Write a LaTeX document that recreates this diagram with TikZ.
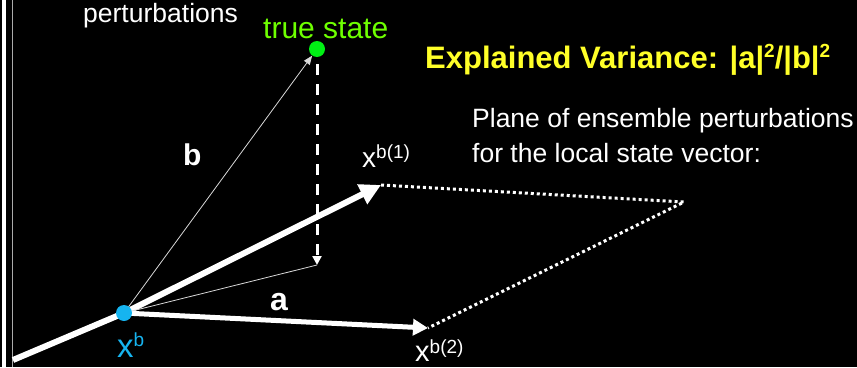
\documentclass[tikz,border=0pt]{standalone}
\usepackage{fontspec}
\setmainfont{Liberation Sans}
\usetikzlibrary{arrows.meta,backgrounds}
\definecolor{xbcyan}{RGB}{22,180,240}
\definecolor{tsgreen}{RGB}{0,240,20}
\definecolor{tstext}{RGB}{110,255,0}
\definecolor{evyellow}{RGB}{255,255,40}
\definecolor{rulegray}{RGB}{170,170,170}
\newcommand{\fsz}[1]{\fontsize{#1}{#1}\selectfont}
\newcommand{\evsq}{\raisebox{11pt}{\fsz{19}2}}
\begin{document}
\begin{tikzpicture}[x=1pt,y=-1pt,
  lbl/.style={anchor=base west,inner sep=0pt,text=white},
  dotnode/.style={circle,inner sep=0pt,minimum size=16pt},
  thickvec/.style={white,line width=6pt,-{Triangle[length=21pt,width=21pt]}},
  thinvec/.style={white!85!black,line width=0.8pt},
  dotline/.style={white,line width=3pt,dash pattern=on 3pt off 3pt}]
\useasboundingbox (0,0) rectangle (857,367);
% points
\coordinate (start) at (13,360);
\node[dotnode,fill=xbcyan] (xb) at (124,313) {};
\node[dotnode,fill=tsgreen] (ts) at (317,49) {};
\coordinate (x1) at (381,185);
\coordinate (x2) at (428,328);
\coordinate (pl) at (684,202);
\coordinate (proj) at (317,265);
\coordinate (dtop) at (317,64);
\begin{scope}[on background layer]
\fill[black] (0,0) rectangle (857,367);
\draw[white,line width=4pt] (4,0) -- (4,367);
\draw[rulegray,line width=1pt] (12.5,0) -- (12.5,367);
\draw[white,line width=6pt] (start) -- (xb.center);
\draw[thickvec] (xb.center) -- (x1);
\draw[white,line width=5pt,-{Triangle[length=15pt,width=16pt]}] (xb.center) -- (x2);
\draw[dotline] (x1) -- (pl) -- (x2);
\draw[thinvec,-{Triangle[length=9pt,width=7pt]}] (xb.center) -- (ts);
\draw[thinvec] (xb.center) -- (proj);
\draw[white,line width=3pt,dash pattern=on 11pt off 9pt,-{Triangle[length=9pt,width=9pt]}] (dtop) -- (proj);
\end{scope}
% labels
\node[lbl] (pert) at (83,22) {\fsz{26.5}perturbations};
\node[lbl,text=tstext] (tslbl) at (263,38) {\fsz{30}true state};
\node[lbl,text=evyellow] (ev) at (425,68) {\fsz{31}\bfseries Explained Variance: |a|\evsq/|b|\evsq};
\node[lbl] (pl1) at (472,127) {\fsz{26.5}Plane of ensemble perturbations};
\node[lbl] (pl2) at (472,162) {\fsz{26.5}for the local state vector:};
\node[lbl] (blbl) at (183,165) {\fsz{30}\bfseries b};
\node[lbl] (albl) at (270,310) {\fsz{32}\bfseries a};
\node[lbl,text=xbcyan] (xblbl) at (117,357) {\fsz{33}x\raisebox{11pt}{\fsz{19}b}};
\node[lbl] (x1lbl) at (362,167) {\fsz{28}x\raisebox{9pt}{\fsz{19}b(1)}};
\node[lbl] (x2lbl) at (415,361) {\fsz{29}x\raisebox{8pt}{\fsz{19}b(2)}};
\end{tikzpicture}
\end{document}
